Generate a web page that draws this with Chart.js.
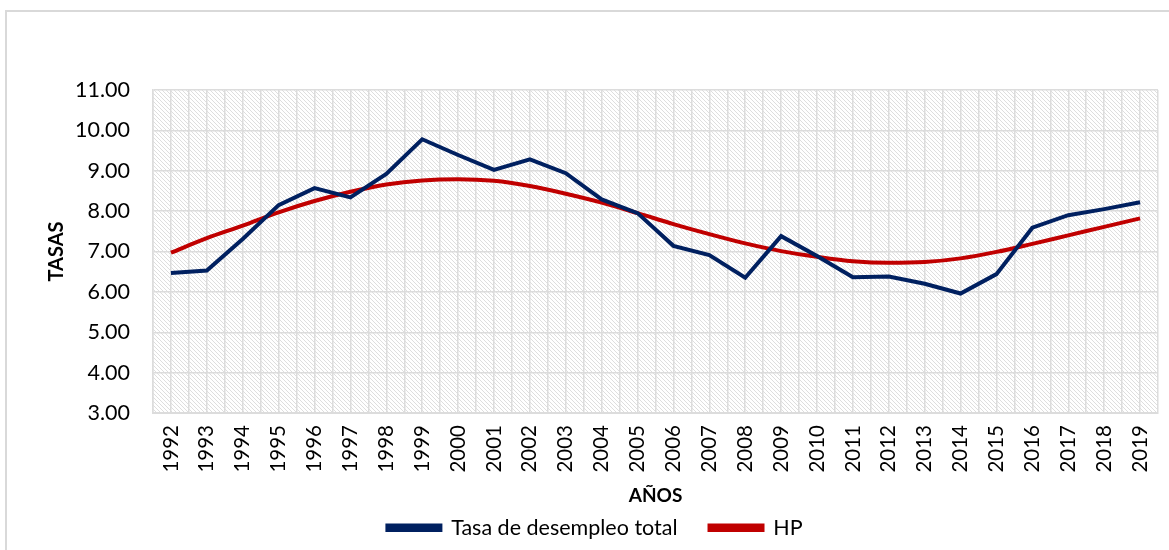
<!DOCTYPE html>
<html>
<head>
<meta charset="utf-8">
<script src="https://cdn.jsdelivr.net/npm/chart.js@4.4.1/dist/chart.umd.min.js"></script>
<style>
  html, body { margin: 0; padding: 0; background: #fff; }
  body { width: 1169px; height: 550px; position: relative; overflow: hidden; }
  .frame {
    position: absolute; left: 5px; top: 10px; width: 1300px; height: 700px;
    border-top: 2px solid #d9d9d9; border-left: 2px solid #d9d9d9;
  }
  .wrap { position: absolute; left: 0; top: 0; width: 1169px; height: 550px; }
</style>
</head>
<body>
<div class="frame"></div>
<div class="wrap"><canvas id="chart"></canvas></div>
<script>
/* data */
const YEARS = [
  "1992", "1993", "1994", "1995", "1996", "1997", "1998", "1999", "2000", "2001",
  "2002", "2003", "2004", "2005", "2006", "2007", "2008", "2009", "2010", "2011",
  "2012", "2013", "2014", "2015", "2016", "2017", "2018", "2019",
];
const TASA = [
  6.47, 6.53, 7.31, 8.15, 8.57, 8.34, 8.92, 9.78, 9.39, 9.02,
  9.28, 8.94, 8.29, 7.95, 7.14, 6.91, 6.35, 7.38, 6.89, 6.36,
  6.38, 6.20, 5.96, 6.44, 7.59, 7.90, 8.05, 8.22,
];
const HP = [
  6.97, 7.33, 7.64, 7.97, 8.25, 8.48, 8.66, 8.76, 8.79, 8.75,
  8.62, 8.43, 8.21, 7.95, 7.68, 7.43, 7.20, 7.01, 6.87, 6.76,
  6.72, 6.74, 6.83, 6.99, 7.19, 7.40, 7.61, 7.82,
];
const Y_MIN = 3;
const Y_MAX = 11;

const COLORS = {
  blue: "#002060",
  red: "#c00000",
  grid: "#dcdcdc",
  hatch: "#dedede",
  text: "#000",
};

Chart.defaults.font.family = "Lato, 'Open Sans', sans-serif";
Chart.defaults.color = COLORS.text;

function makeHatch() {
  const tile = document.createElement("canvas");
  tile.width = 4;
  tile.height = 4;
  const c = tile.getContext("2d");
  c.fillStyle = "#fff";
  c.fillRect(0, 0, 4, 4);
  c.fillStyle = COLORS.hatch;
  for (let i = 0; i < 4; i++) c.fillRect(i, i, 1, 1);
  return c.createPattern(tile, "repeat");
}

const hatchBackground = {
  id: "hatchBackground",
  beforeDraw(chart) {
    const { ctx, chartArea } = chart;
    ctx.save();
    ctx.fillStyle = makeHatch();
    ctx.fillRect(chartArea.left, chartArea.top,
      chartArea.right - chartArea.left, chartArea.bottom - chartArea.top);
    ctx.restore();
  },
};

function initChart() {
  const ctx = document.getElementById("chart");
  new Chart(ctx, {
    type: "line",
    data: {
      labels: YEARS,
      datasets: [
        {
          label: "Tasa de desempleo total",
          data: TASA,
          borderColor: COLORS.blue,
          backgroundColor: COLORS.blue,
          borderWidth: 4,
          pointRadius: 0,
          tension: 0,
        },
        {
          label: "HP",
          data: HP,
          borderColor: COLORS.red,
          backgroundColor: COLORS.red,
          borderWidth: 4,
          pointRadius: 0,
          cubicInterpolationMode: "monotone",
        },
      ],
    },
    plugins: [hatchBackground],
    options: {
      responsive: false,
      animation: false,
      layout: { padding: { top: 90, left: 32, right: 11, bottom: 1.5 } },
      scales: {
        x: {
          type: "category",
          offset: true,
          weight: 2,
          grid: { offset: true, color: COLORS.grid, lineWidth: 1.5, drawTicks: false },
          border: { color: COLORS.grid, width: 2 },
          ticks: {
            minRotation: 90,
            maxRotation: 90,
            padding: 12,
            autoSkip: false,
            font: { size: 20.5 },
          },
          title: {
            display: true,
            text: "AÑOS",
            font: { size: 19, weight: "bold" },
            padding: { top: 0, bottom: -22 },
          },
          afterFit(scale) {
            scale.height = 72;
            scale.paddingLeft = 0;
            scale.paddingRight = 0;
          },
        },
        x2: {
          type: "category",
          position: "bottom",
          offset: true,
          weight: 1,
          grid: { offset: false, color: COLORS.grid, lineWidth: 1.5, drawTicks: false },
          border: { display: false },
          ticks: { display: false },
          afterFit(scale) {
            scale.height = 0;
            scale.paddingLeft = 0;
            scale.paddingRight = 0;
          },
        },
        y: {
          min: Y_MIN,
          max: Y_MAX,
          grid: { color: COLORS.grid, lineWidth: 1.5, drawTicks: false },
          border: { color: COLORS.grid, width: 1.5 },
          ticks: {
            stepSize: 1,
            padding: 23,
            font: { size: 21.5 },
            callback: (v) => Number(v).toFixed(2),
          },
          title: {
            display: true,
            text: "TASAS",
            font: { size: 20, weight: "bold" },
            padding: { top: 13, bottom: 0 },
          },
          afterFit(scale) { scale.width = 121; },
        },
      },
      plugins: {
        legend: {
          position: "bottom",
          labels: {
            boxWidth: 53,
            boxHeight: 4.5,
            padding: 32,
            font: { size: 21.5 },
          },
        },
        tooltip: { enabled: false },
      },
    },
  });
}

document.addEventListener("DOMContentLoaded", () => {
  const c = document.getElementById("chart");
  c.width = 1169;
  c.height = 550;
  initChart();
});
</script>
</body>
</html>
